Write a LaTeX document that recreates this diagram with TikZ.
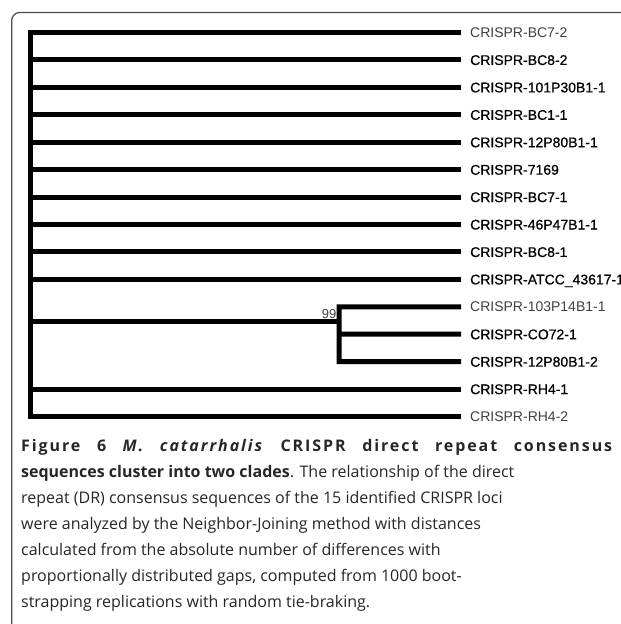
\documentclass[tikz,border=0pt]{standalone}
\usepackage{fontspec}
\setmainfont{Open Sans}
\newfontfamily\labfont{Liberation Sans}
\newfontfamily\labfontdark[FakeBold=0.7]{Liberation Sans}
\begin{document}
\begin{tikzpicture}[x=1pt,y=-1pt,
  branch/.style={line width=5pt, line join=miter, line cap=butt},
  leaflab/.style={anchor=base west, inner sep=0pt, font=\labfontdark\fontsize{14}{14}\selectfont, text=black},
  leaflablight/.style={leaflab, font=\labfont\fontsize{14}{14}\selectfont, text=black!75},
  capline/.style={anchor=base west, inner sep=0pt, font=\fontsize{16}{19}\selectfont, text=black!85},
]
\useasboundingbox (0,0) rectangle (621,624);
\clip (0,0) rectangle (621,624);
% frame
\draw[black!70, line width=1.2pt, rounded corners=8pt] (11.7,12.5) rectangle (660,632);
% leaves
\foreach \i in {1,...,15}{
  \pgfmathsetmacro{\yy}{32.5+27.43*(\i-1)}
  \coordinate (b\i) at (30,\yy);
  \coordinate (t\i) at (461,\yy);
}
\coordinate (c11) at (339,306.8);
\coordinate (c12) at (339,334.2);
\coordinate (c13) at (339,361.7);
\coordinate (cm) at (339,321.5);
\coordinate (rm) at (30,321.5);
% labels
\node[leaflablight] (L1) at ([xshift=9pt,yshift=-5pt]t1) {CRISPR-BC7-2};
\node[leaflab] (L2) at ([xshift=9pt,yshift=-5pt]t2) {CRISPR-BC8-2};
\node[leaflab] (L3) at ([xshift=9pt,yshift=-5pt]t3) {CRISPR-101P30B1-1};
\node[leaflab] (L4) at ([xshift=9pt,yshift=-5pt]t4) {CRISPR-BC1-1};
\node[leaflab] (L5) at ([xshift=9pt,yshift=-5pt]t5) {CRISPR-12P80B1-1};
\node[leaflab] (L6) at ([xshift=9pt,yshift=-5pt]t6) {CRISPR-7169};
\node[leaflab] (L7) at ([xshift=9pt,yshift=-5pt]t7) {CRISPR-BC7-1};
\node[leaflab] (L8) at ([xshift=9pt,yshift=-5pt]t8) {CRISPR-46P47B1-1};
\node[leaflab] (L9) at ([xshift=9pt,yshift=-5pt]t9) {CRISPR-BC8-1};
\node[leaflab] (L10) at ([xshift=9pt,yshift=-5pt]t10) {CRISPR-ATCC\_43617-1};
\node[leaflablight] (L11) at ([xshift=9pt,yshift=-5pt]t11) {CRISPR-103P14B1-1};
\node[leaflab] (L12) at ([xshift=9pt,yshift=-5pt]t12) {CRISPR-CO72-1};
\node[leaflab] (L13) at ([xshift=9pt,yshift=-5pt]t13) {CRISPR-12P80B1-2};
\node[leaflab] (L14) at ([xshift=9pt,yshift=-5pt]t14) {CRISPR-RH4-1};
\node[leaflablight] (L15) at ([xshift=9pt,yshift=-5pt]t15) {CRISPR-RH4-2};
% branches
\draw[branch] (t1) -- (b1) -- (b15) -- (t15);
\foreach \i in {2,...,10,14}{ \draw[branch] (b\i) -- (t\i); }
\draw[branch] (rm) -- (cm);
\draw[branch] (t11) -- (c11) -- (c13) -- (t13);
\draw[branch] (c12) -- (t12);
\node[anchor=base east, inner sep=0pt, font=\labfont\fontsize{13}{13}\selectfont, text=black!75] (bs) at (336.5,318) {99};
% caption
\node[capline] (cap1) at (21,451) {\makebox[591pt][s]{\bfseries\addfontfeatures{LetterSpace=12}Figure 6 \textit{M. catarrhalis} CRISPR direct repeat consensus}};
\node[capline] (cap2) at (21,477) {\textbf{sequences cluster into two clades}. The relationship of the direct};
\node[capline] (cap3) at (21,503) {repeat (DR) consensus sequences of the 15 identified CRISPR loci};
\node[capline] (cap4) at (21,529) {were analyzed by the Neighbor-Joining method with distances};
\node[capline] (cap5) at (21,555) {calculated from the absolute number of differences with};
\node[capline] (cap6) at (21,581) {proportionally distributed gaps, computed from 1000 boot-};
\node[capline] (cap7) at (21,607) {strapping replications with random tie-braking.};
\end{tikzpicture}
\end{document}
